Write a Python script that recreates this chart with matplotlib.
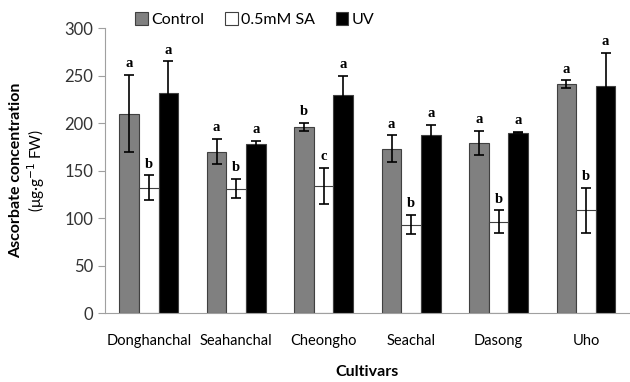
import matplotlib
matplotlib.use("Agg")
import matplotlib.pyplot as plt
import numpy as np

cultivars = ["Donghanchal", "Seahanchal", "Cheongho", "Seachal", "Dasong", "Uho"]
control = [210, 170, 196, 173, 179, 241]
control_err = [41, 13, 4, 14, 13, 4]
sa = [132, 131, 134, 93, 96, 108]
sa_err = [13, 10, 19, 10, 12, 24]
uv = [232, 178, 230, 187, 190, 239]
uv_err = [33, 3, 20, 11, 1, 35]
letters_control = ["a", "a", "b", "a", "a", "a"]
letters_sa = ["b", "b", "c", "b", "b", "b"]
letters_uv = ["a", "a", "a", "a", "a", "a"]

plt.rcParams['font.family'] = ['Lato', 'DejaVu Sans']

fig = plt.figure(figsize=(6.3, 3.82), dpi=100)
ax = fig.add_axes([0.1667, 0.1806, 0.833, 0.7461])

x = np.arange(len(cultivars))
w = 0.224
series = [
    (control, control_err, letters_control, "#808080", "Control", -w),
    (sa, sa_err, letters_sa, "white", "0.5mM SA", 0),
    (uv, uv_err, letters_uv, "black", "UV", w),
]
for vals, errs, lets, col, lab, off in series:
    ax.bar(x + off, vals, w, color=col, edgecolor="#404040", linewidth=0.8, label=lab, zorder=2)
    ax.errorbar(x + off, vals, yerr=errs, fmt="none", ecolor="black", elinewidth=1.2,
                capsize=3.5, capthick=1.2, zorder=3)
    for xi, v, e, t in zip(x + off, vals, errs, lets):
        ax.text(xi, v + e + 5, t, ha="center", va="bottom", fontsize=10.5,
                fontweight="bold", family="Liberation Serif")

ax.set_xlim(-0.5, 5.5)
ax.set_ylim(0, 300)
ax.set_yticks(range(0, 301, 50))
ax.set_xticks(x)
ax.set_xticklabels(cultivars, fontsize=10.5)
ax.tick_params(axis="x", length=0, pad=15)
ax.tick_params(axis="y", labelsize=12, length=5, color="#a0a0a0", labelcolor="#333333")
for s in ["top", "right"]:
    ax.spines[s].set_visible(False)
for s in ["left", "bottom"]:
    ax.spines[s].set_color("#a0a0a0")

ax.set_xlabel("Cultivars", fontsize=11.5, fontweight="bold", labelpad=12)
fig.text(0.026, 0.555, "Ascorbate concentration", rotation=90, ha="center", va="center",
         fontsize=11.5, fontweight="bold")
fig.text(0.058, 0.555, "(μg·g$^{-1}$ FW)", rotation=90, ha="center", va="center",
         fontsize=11)

leg = ax.legend(loc="upper left", bbox_to_anchor=(0.03, 1.105), ncol=3, frameon=False,
                fontsize=11.5, handlelength=0.8, handleheight=0.8, handletextpad=0.2,
                columnspacing=1.3)

fig.savefig("out.png", dpi=100)
